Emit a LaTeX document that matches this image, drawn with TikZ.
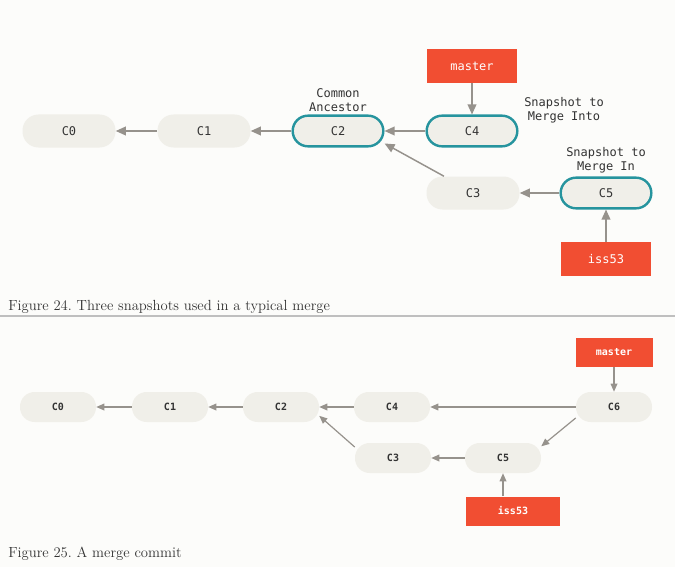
\documentclass[tikz,border=0pt]{standalone}
\usepackage{fontspec}
\setmonofont{DejaVu Sans Mono}
\usetikzlibrary{arrows.meta}
\frenchspacing
\definecolor{hgrund}{RGB}{252,252,250}
\definecolor{knotenfarbe}{RGB}{240,239,233}
\definecolor{tuerkis}{RGB}{38,148,158}
\definecolor{zweigrot}{RGB}{241,78,50}
\definecolor{pfeilgrau}{RGB}{150,146,140}
\definecolor{schrift}{RGB}{51,51,51}
\tikzset{
  commit/.style={rectangle, rounded corners=12pt, fill=knotenfarbe, inner sep=0pt,
    minimum width=69.75pt, minimum height=24.75pt, text=schrift,
    font=\ttfamily\fontsize{9}{11}\selectfont},
  basis/.style={commit, draw=tuerkis, line width=1.8pt, rounded corners=11.5pt,
    minimum width=68pt, minimum height=23pt},
  commitk/.style={commit, rounded corners=11pt, minimum width=57pt, minimum height=22.5pt,
    font=\ttfamily\bfseries\fontsize{7.5}{9}\selectfont},
  zweig/.style={rectangle, fill=zweigrot, inner sep=0pt, minimum width=67.5pt,
    minimum height=25.5pt, text=white, font=\ttfamily\fontsize{9}{11}\selectfont},
  zweigk/.style={zweig, minimum width=57.75pt, minimum height=21.75pt,
    font=\ttfamily\bfseries\fontsize{7.5}{9}\selectfont},
  beschr/.style={align=center, inner sep=0pt, text=schrift,
    font=\ttfamily\fontsize{9}{10.5}\selectfont},
  pf/.style={draw=pfeilgrau, line width=1.1pt, -{Triangle[length=7.5pt,width=6.5pt]}},
  pfk/.style={pf, line width=0.9pt, -{Triangle[length=6pt,width=5pt]}},
  titel/.style={anchor=base west, inner sep=0pt, text=schrift,
    font=\rmfamily\fontsize{11}{13}\selectfont}
}
\begin{document}
\begin{tikzpicture}[x=0.75pt, y=-0.75pt]
  \fill[hgrund] (0,0) rectangle (675,567);
  \useasboundingbox (0,0) rectangle (675,567);
  % Abbildung 24: drei Snapshots
  \node[commit] (c0) at (69,131) {C0};
  \node[commit] (c1) at (204,131) {C1};
  \node[basis] (c2) at (338,131) {C2};
  \node[basis] (c4) at (472,131) {C4};
  \node[commit] (c3) at (473,193) {C3};
  \node[basis] (c5) at (606,193) {C5};
  \node[zweig] (master) at (472,66) {master};
  \node[zweig] (iss) at (606,259) {iss53};
  \node[beschr] (anc) at (338,100) {Common\\Ancestor};
  \node[beschr] (into) at (564,110) {Snapshot to\\Merge Into};
  \node[beschr] (in) at (606,160) {Snapshot to\\Merge In};
  \draw[pf] (c1) -- (c0);
  \draw[pf] (c2) -- (c1);
  \draw[pf] (c4) -- (c2);
  \draw[pf] (c5) -- (c3);
  \draw[pf] (c3.150) -- (c2.-15);
  \draw[pf] (master) -- (c4);
  \draw[pf] (iss) -- (c5);
  \node[titel] (cap1) at (8,310) {Figure \oldstylenums{24}. Three snapshots used in a typical merge};
  % Trennlinie
  \draw[draw=black!25, line width=1.5pt] (0,316) -- (675,316);
  % Abbildung 25: Merge-Commit
  \node[commitk] (d0) at (58,407) {C0};
  \node[commitk] (d1) at (170,407) {C1};
  \node[commitk] (d2) at (281,407) {C2};
  \node[commitk] (d4) at (392,407) {C4};
  \node[commitk] (d6) at (614,407) {C6};
  \node[commitk] (d3) at (393,458) {C3};
  \node[commitk] (d5) at (503,458) {C5};
  \node[zweigk] (masterk) at (614,352) {master};
  \node[zweigk, minimum width=70.5pt] (issk) at (513,511) {iss53};
  \draw[pfk] (d1) -- (d0);
  \draw[pfk] (d2) -- (d1);
  \draw[pfk] (d4) -- (d2);
  \draw[pfk] (d6) -- (d4);
  \draw[pfk] (d5) -- (d3);
  \draw[pfk] (d3.164) -- (d2.-13);
  \draw[pfk] (d6.-164) -- (d5.17);
  \draw[pfk] (masterk) -- (d6);
  \draw[pfk] (d5 |- issk.north) -- (d5.south);
  \node[titel] (cap2) at (8,557) {Figure \oldstylenums{25}. A merge commit};
\end{tikzpicture}
\end{document}
